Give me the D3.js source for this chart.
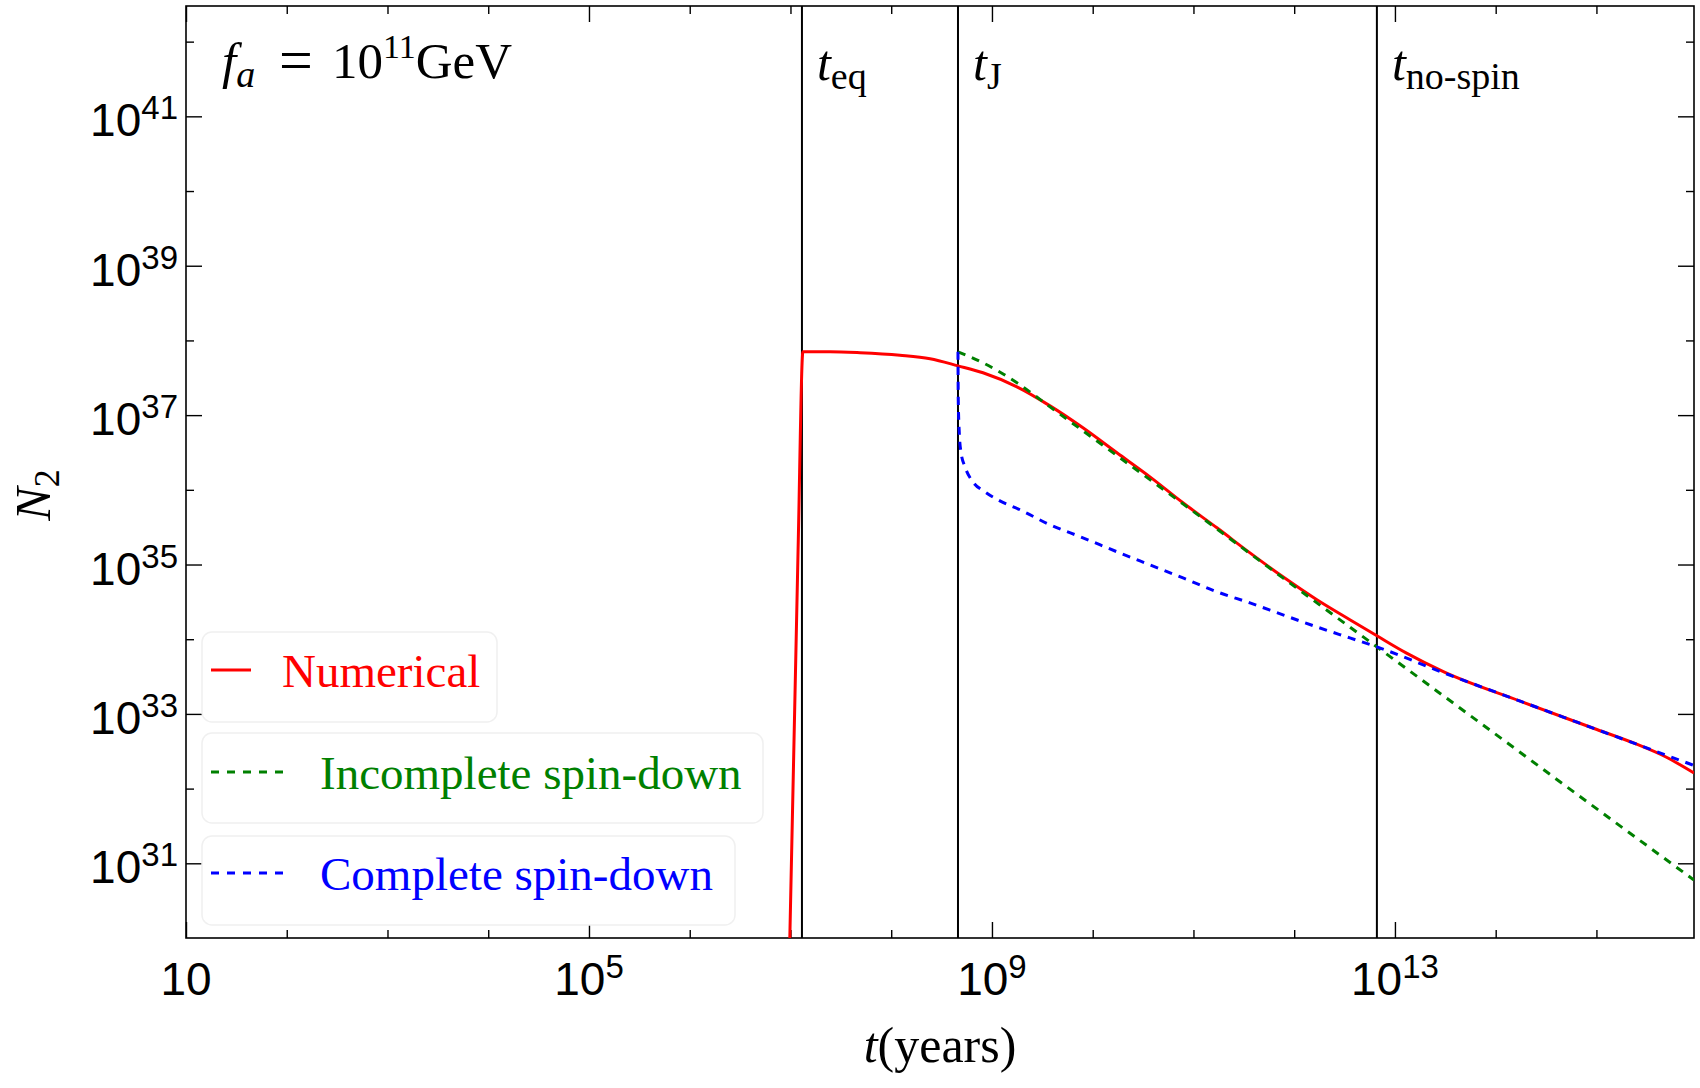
<!DOCTYPE html>
<html>
<head>
<meta charset="utf-8">
<script src="https://cdn.jsdelivr.net/npm/d3@7"></script>
<style>
body { margin:0; background:#fff; }
svg { display:block; }
.serif { font-family: "Liberation Serif", "Times New Roman", serif; }
.sans { font-family: "Liberation Sans", Arial, sans-serif; }
</style>
</head>
<body>
<div id="chart"></div>
<script>
const svgWidth = 1700;
const svgHeight = 1088;
const plot = {left:186, right:1694, top:6, bottom:938};

// values: [t (years), N2]
const numerical = [
    [9.33e6, 3.16e28], [1.19e7, 1.57e35], [1.33e7, 7.05e37], [2.47e7, 7.05e37],
    [4.90e7, 6.84e37], [1.22e8, 6.32e37], [2.43e8, 5.68e37], [4.60e8, 4.57e37],
    [8.15e8, 3.69e37], [1.77e9, 2.39e37], [3.77e9, 1.33e37], [8.00e9, 6.76e36],
    [1.74e10, 3.13e36], [3.70e10, 1.49e36], [7.87e10, 6.70e35], [1.71e11, 3.10e35],
    [3.64e11, 1.43e35], [7.73e11, 6.84e34], [1.68e12, 3.37e34], [3.57e12, 1.82e34],
    [6.62e12, 1.11e34], [1.29e13, 6.56e33], [3.06e13, 3.65e33], [1.78e14, 1.47e33],
    [1.01e15, 6.18e32], [2.47e15, 3.96e32], [4.90e15, 2.65e32], [9.29e15, 1.62e32]
];
const incomplete = [
    [4.60e8, 7.05e37], [8.15e8, 5.02e37], [1.77e9, 2.71e37], [3.77e9, 1.29e37],
    [8.00e9, 6.17e36], [7.87e10, 6.49e35], [7.73e11, 6.62e34], [6.62e12, 7.89e33],
    [7.46e13, 7.13e32], [1.01e15, 5.35e31], [9.29e15, 5.98e30]
];
const complete = [
    [4.60e8, 7.05e37], [4.63e8, 1.60e37], [4.75e8, 5.45e36], [4.92e8, 3.23e36],
    [5.40e8, 2.03e36], [6.47e8, 1.28e36], [8.53e8, 9.40e35], [1.20e9, 7.11e35],
    [1.90e9, 5.40e35], [3.77e9, 3.40e35], [8.00e9, 2.28e35], [1.74e10, 1.48e35],
    [3.70e10, 9.89e34], [7.87e10, 6.62e34], [1.71e11, 4.31e34], [3.64e11, 3.06e34],
    [7.73e11, 2.12e34], [1.68e12, 1.46e34], [3.57e12, 1.04e34], [6.62e12, 7.89e33],
    [3.06e13, 3.54e33], [1.78e14, 1.47e33], [1.01e15, 6.18e32], [2.47e15, 3.96e32],
    [9.29e15, 2.04e32]
];

const seriesNames = ["Numerical", "Incomplete spin-down", "Complete spin-down"];
const seriesColors = ["#ff0000", "#008000", "#0000ff"];
const seriesDash = [null, "8,7", "8,7"];

const markerTimes = [1.30e7, 4.60e8, 6.62e12];
const markerSubs = ["eq", "J", "no-spin"];

const xDomain = [10, 9.3e15];
const yDomain = [1e30, 3e42];
const xMajorTicks = [10, 1e5, 1e9, 1e13];
const xMinorTicks = [1e2,1e3,1e4,1e6,1e7,1e8,1e10,1e11,1e12,1e14,1e15];
const yMajorTicks = [1e31, 1e33, 1e35, 1e37, 1e39, 1e41];
const yMinorTicks = [1e32, 1e34, 1e36, 1e38, 1e40, 1e42];

document.addEventListener("DOMContentLoaded", function(){
    drawChart();
});

function drawChart(){
    const svg = d3.select("#chart")
                    .append("svg")
                    .attr("width", svgWidth)
                    .attr("height", svgHeight);

    const xscale = d3.scaleLog().domain(xDomain).range([plot.left, plot.right]);
    const yscale = d3.scaleLog().domain(yDomain).range([plot.bottom, plot.top]);

    svg.append("clipPath").attr("id","plotclip")
        .append("rect")
        .attr("x", plot.left).attr("y", plot.top)
        .attr("width", plot.right-plot.left).attr("height", plot.bottom-plot.top);

    //ticks on all four sides, pointing in
    function ticks(axis, pos, vals, size){
        const g = svg.append("g")
            .attr("transform", pos)
            .call(axis.tickValues(vals).tickSize(-size).tickFormat(""));
        g.select(".domain").remove();
        g.selectAll("line").attr("stroke","#000").attr("stroke-width",1.4);
    }
    [[xMajorTicks,16],[xMinorTicks,8]].forEach(function(t){
        ticks(d3.axisBottom(xscale), "translate(0,"+plot.bottom+")", t[0], t[1]);
        ticks(d3.axisTop(xscale), "translate(0,"+plot.top+")", t[0], t[1]);
    });
    [[yMajorTicks,16],[yMinorTicks,8]].forEach(function(t){
        ticks(d3.axisLeft(yscale), "translate("+plot.left+",0)", t[0], t[1]);
        ticks(d3.axisRight(yscale), "translate("+plot.right+",0)", t[0], t[1]);
    });

    svg.append("rect")
        .attr("x", plot.left).attr("y", plot.top)
        .attr("width", plot.right-plot.left).attr("height", plot.bottom-plot.top)
        .attr("fill","none").attr("stroke","#000").attr("stroke-width",1.6);

    //tick labels like 10^5
    function powerLabel(sel, v){
        const e = Math.round(Math.log10(v));
        sel.append("tspan").text("10");
        if (e !== 1) sel.append("tspan").attr("font-size",33).attr("dy",-17).text(e);
    }
    xMajorTicks.forEach(function(v){
        const t = svg.append("text").attr("class","sans")
            .attr("x", xscale(v)).attr("y", 995)
            .attr("text-anchor","middle").attr("font-size",46);
        powerLabel(t, v);
    });
    yMajorTicks.forEach(function(v){
        const t = svg.append("text").attr("class","sans")
            .attr("x", 178).attr("y", yscale(v)+20)
            .attr("text-anchor","end").attr("font-size",46);
        powerLabel(t, v);
    });

    //vertical time markers
    markerTimes.forEach(function(tm, i){
        svg.append("line")
            .attr("x1", xscale(tm)).attr("x2", xscale(tm))
            .attr("y1", plot.top).attr("y2", plot.bottom)
            .attr("stroke","#000").attr("stroke-width",2);
        const t = svg.append("text").attr("class","serif")
            .attr("x", xscale(tm)+15).attr("y", 80).attr("font-size",50);
        t.append("tspan").attr("font-style","italic").text("t");
        t.append("tspan").attr("font-size",38).attr("dy",9).text(markerSubs[i]);
    });

    //curves
    const line = d3.line()
                    .x(function(d){ return xscale(d[0]); })
                    .y(function(d){ return yscale(d[1]); })
                    .curve(d3.curveMonotoneX);

    const curves = svg.append("g").attr("clip-path","url(#plotclip)");
    [numerical, incomplete, complete].forEach(function(data, i){
        curves.append("path")
            .datum(data)
            .attr("d", line)
            .attr("fill","none")
            .attr("stroke", seriesColors[i])
            .attr("stroke-width", 3)
            .attr("stroke-dasharray", seriesDash[i]);
    });

    //annotation
    const ann = svg.append("text").attr("class","serif").attr("x",222).attr("y",78).attr("font-size",51);
    ann.append("tspan").attr("font-style","italic").text("f");
    ann.append("tspan").attr("font-style","italic").attr("font-size",38).attr("dy",9).text("a");
    ann.append("tspan").attr("x",279).attr("dy",-7).attr("font-size",60).text("=");
    ann.append("tspan").attr("x",332).attr("dy",-2).text("10");
    ann.append("tspan").attr("font-size",34).attr("dy",-20).text("11");
    ann.append("tspan").attr("dy",20).text("GeV");

    //legend
    const legendBoxes = [[202,632,295,90],[202,733,561,90],[202,836,533,89]];
    const legendY = [670, 772, 873];
    const legendTextX = [282, 320, 320];
    const sampleLen = [40, 75, 75];
    seriesNames.forEach(function(name, i){
        const b = legendBoxes[i];
        svg.append("rect")
            .attr("x",b[0]).attr("y",b[1]).attr("width",b[2]).attr("height",b[3])
            .attr("rx",10).attr("ry",10)
            .attr("fill","#fff").attr("stroke","#f0f0f0").attr("stroke-width",1.5);
        svg.append("line")
            .attr("x1",211).attr("x2",211+sampleLen[i])
            .attr("y1",legendY[i]).attr("y2",legendY[i])
            .attr("stroke",seriesColors[i]).attr("stroke-width",3)
            .attr("stroke-dasharray", seriesDash[i] ? "8,8" : null);
        svg.append("text").attr("class","serif")
            .attr("x",legendTextX[i]).attr("y",legendY[i]+17)
            .attr("font-size",47).attr("fill",seriesColors[i])
            .text(name);
    });

    //axis titles
    const xt = svg.append("text").attr("class","serif")
        .attr("x",(plot.left+plot.right)/2).attr("y",1062)
        .attr("text-anchor","middle").attr("font-size",50);
    xt.append("tspan").attr("font-style","italic").text("t");
    xt.append("tspan").text("(years)");

    const yt = svg.append("text").attr("class","serif")
        .attr("transform","translate(50,495)rotate(-90)")
        .attr("text-anchor","middle").attr("font-size",50);
    yt.append("tspan").attr("font-style","italic").text("N");
    yt.append("tspan").attr("font-size",36).attr("dy",9).text("2");
}
</script>
</body>
</html>
